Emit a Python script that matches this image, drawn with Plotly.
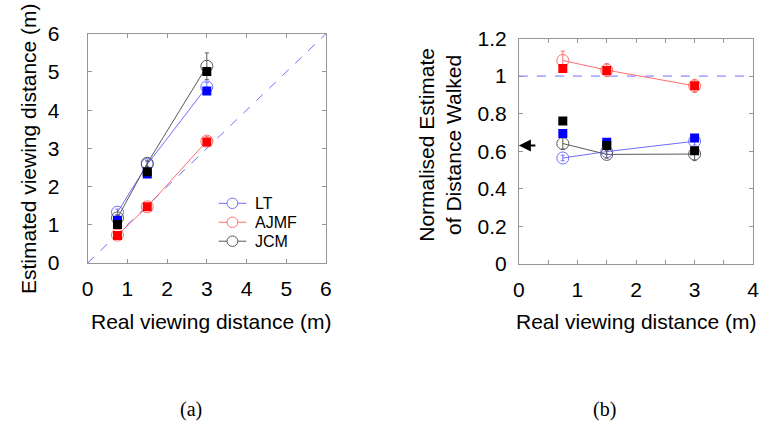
import plotly.graph_objects as go

# ---------------- data ----------------
real_dist = [0.75, 1.5, 3.0]
subjects = ["LT", "AJMF", "JCM"]

# panel (a): estimated viewing distance
a_lt_circ = [1.33, 2.58, 4.61]
a_lt_circ_err = [0.08, 0.08, 0.12]
a_lt_sq = [1.12, 2.33, 4.50]
a_ajmf_circ = [0.73, 1.47, 3.19]
a_ajmf_circ_err = [0.05, 0.05, 0.12]
a_ajmf_sq = [0.72, 1.47, 3.17]
a_jcm_circ = [1.18, 2.61, 5.15]
a_jcm_circ_err = [0.08, 0.08, 0.35]
a_jcm_sq = [1.01, 2.39, 5.01]

# panel (b): normalised estimate of distance walked
b_lt_circ = [0.564, 0.598, 0.653]
b_lt_circ_err = [0.015, 0.015, 0.02]
b_lt_sq = [0.694, 0.648, 0.670]
b_ajmf_circ = [1.083, 1.032, 0.948]
b_ajmf_circ_err = [0.05, 0.035, 0.035]
b_ajmf_sq = [1.040, 1.030, 0.948]
b_jcm_circ = [0.641, 0.583, 0.585]
b_jcm_circ_err = [0.03, 0.02, 0.035]
b_jcm_sq = [0.761, 0.631, 0.603]

overall_mean = 0.63
unity = 1.0

range_a = [0, 6]
range_bx = [0, 4]
range_by = [0, 1.2]
ticks_a = [0, 1, 2, 3, 4, 5, 6]
ticks_bx = [0, 0.5, 1, 1.5, 2, 2.5, 3, 3.5, 4]
ticklabels_bx = ["0", "", "1", "", "2", "", "3", "", "4"]
ticks_by = [0, 0.2, 0.4, 0.6, 0.8, 1.0, 1.2]
ticklabels_by = ["0", "0.2", "0.4", "0.6", "0.8", "1", "1.2"]

# ---------------- styling ----------------
W, H = 770, 435
FONT = "Liberation Sans, Arial, sans-serif"
LT_LINE = "rgb(110,110,255)"
AJ_LINE = "rgb(255,110,110)"
JC_LINE = "rgb(90,90,90)"
LT_SQ = "rgb(0,0,255)"
AJ_SQ = "rgb(255,0,0)"
JC_SQ = "rgb(0,0,0)"
FRAME = "rgb(150,150,150)"
TXT = 21
LINE_COLORS = [LT_LINE, AJ_LINE, JC_LINE]


def px_x(p):
    return p / W


def px_y(p):
    return 1 - p / H


fig = go.Figure()


def circ_trace(x, y, err, color, name, xa, ya):
    return go.Scatter(
        x=x, y=y, mode="lines+markers", name=name, showlegend=False,
        line=dict(color=color, width=1),
        marker=dict(symbol="circle-open", size=12, color=color, line=dict(width=1, color=color)),
        error_y=dict(type="data", array=err, visible=True, color=color, thickness=1, width=2),
        xaxis=xa, yaxis=ya,
    )


def sq_trace(x, y, color, name, xa, ya):
    return go.Scatter(
        x=x, y=y, mode="markers", name=name, showlegend=False,
        marker=dict(symbol="square", size=9, color=color),
        xaxis=xa, yaxis=ya,
    )


# panel (a)
fig.add_trace(go.Scatter(x=range_a, y=range_a, mode="lines", showlegend=False,
                         line=dict(color=LT_LINE, width=1, dash="dash"), xaxis="x", yaxis="y"))
fig.add_trace(circ_trace(real_dist, a_lt_circ, a_lt_circ_err, LT_LINE, subjects[0], "x", "y"))
fig.add_trace(circ_trace(real_dist, a_ajmf_circ, a_ajmf_circ_err, AJ_LINE, subjects[1], "x", "y"))
fig.add_trace(circ_trace(real_dist, a_jcm_circ, a_jcm_circ_err, JC_LINE, subjects[2], "x", "y"))
fig.add_trace(sq_trace(real_dist, a_lt_sq, LT_SQ, subjects[0], "x", "y"))
fig.add_trace(sq_trace(real_dist, a_ajmf_sq, AJ_SQ, subjects[1], "x", "y"))
fig.add_trace(sq_trace(real_dist, a_jcm_sq, JC_SQ, subjects[2], "x", "y"))

# panel (b)
fig.add_trace(go.Scatter(x=range_bx, y=[unity, unity], mode="lines", showlegend=False,
                         line=dict(color=LT_LINE, width=1, dash="dash"), xaxis="x2", yaxis="y2"))
fig.add_trace(circ_trace(real_dist, b_lt_circ, b_lt_circ_err, LT_LINE, subjects[0], "x2", "y2"))
fig.add_trace(circ_trace(real_dist, b_ajmf_circ, b_ajmf_circ_err, AJ_LINE, subjects[1], "x2", "y2"))
fig.add_trace(circ_trace(real_dist, b_jcm_circ, b_jcm_circ_err, JC_LINE, subjects[2], "x2", "y2"))
fig.add_trace(sq_trace(real_dist, b_lt_sq, LT_SQ, subjects[0], "x2", "y2"))
fig.add_trace(sq_trace(real_dist, b_ajmf_sq, AJ_SQ, subjects[1], "x2", "y2"))
fig.add_trace(sq_trace(real_dist, b_jcm_sq, JC_SQ, subjects[2], "x2", "y2"))

axis_common = dict(
    showline=True, linecolor=FRAME, linewidth=1, mirror="ticks",
    ticks="inside", ticklen=4, tickcolor=FRAME, tickwidth=1,
    showgrid=False, zeroline=False,
    tickfont=dict(family=FONT, size=TXT, color="black"),
)

fig.update_layout(
    width=W, height=H, autosize=False,
    margin=dict(l=0, r=0, t=0, b=0, pad=0),
    paper_bgcolor="white", plot_bgcolor="white",
    showlegend=False,
    xaxis=dict(domain=[px_x(83), px_x(325)], range=range_a, tickvals=ticks_a,
               anchor="y", ticklabelstandoff=7, **axis_common),
    yaxis=dict(domain=[px_y(265), px_y(23)], range=range_a, tickvals=ticks_a,
               anchor="x", ticklabelstandoff=23, **axis_common),
    xaxis2=dict(domain=[px_x(521), px_x(759)], range=range_bx, tickvals=ticks_bx,
                ticktext=ticklabels_bx, anchor="y2", ticklabelstandoff=7, **axis_common),
    yaxis2=dict(domain=[px_y(266), px_y(28)], range=range_by, tickvals=ticks_by,
                ticktext=ticklabels_by, anchor="x2", ticklabelstandoff=7, **axis_common),
)

# legend (line + open circle sample, then label), rows as in the original
legend_rows_px = [202, 222, 242]
for name, color, ypx in zip(subjects, LINE_COLORS, legend_rows_px):
    fig.add_shape(type="line", xref="paper", yref="paper",
                  x0=px_x(216), x1=px_x(244), y0=px_y(ypx), y1=px_y(ypx),
                  line=dict(color=color, width=1))
    fig.add_shape(type="circle", xref="paper", yref="paper",
                  x0=px_x(224.5), x1=px_x(235.5), y0=px_y(ypx - 5.5), y1=px_y(ypx + 5.5),
                  line=dict(color=color, width=1), fillcolor="white")
    fig.add_annotation(xref="paper", yref="paper", x=px_x(252), y=px_y(ypx), text=name,
                       showarrow=False, xanchor="left", yanchor="middle",
                       height=18, borderpad=0,
                       font=dict(family=FONT, size=16, color="black"))

annos = [
    dict(text="Estimated viewing distance (m)", x=px_x(23), y=px_y(144), textangle=-90,
         font=dict(size=TXT)),
    dict(text="Real viewing distance (m)", x=px_x(208), y=px_y(327), font=dict(size=TXT)),
    dict(text="Normalised Estimate<br>of Distance Walked", x=px_x(440), y=px_y(140),
         textangle=-90, font=dict(size=TXT)),
    dict(text="Real viewing distance (m)", x=px_x(640), y=px_y(327), font=dict(size=TXT)),
    dict(text="(a)", x=px_x(188), y=px_y(420),
         font=dict(size=20, family="Liberation Serif, Times New Roman, serif")),
    dict(text="(b)", x=px_x(608), y=px_y(420),
         font=dict(size=20, family="Liberation Serif, Times New Roman, serif")),
]
for a in annos:
    f = dict(family=FONT, color="black")
    f.update(a.pop("font"))
    fig.add_annotation(xref="paper", yref="paper", showarrow=False,
                       xanchor="center", yanchor="middle", font=f, **a)

fig.add_annotation(xref="x2", yref="y2", x=0, y=overall_mean, ax=18, ay=0,
                   showarrow=True, arrowhead=2, arrowsize=1.2, arrowwidth=2,
                   arrowcolor="black", text="")

fig.write_html("out.html", config={"displayModeBar": False},
               post_script="document.body.style.margin='0';document.body.style.overflow='hidden';")
